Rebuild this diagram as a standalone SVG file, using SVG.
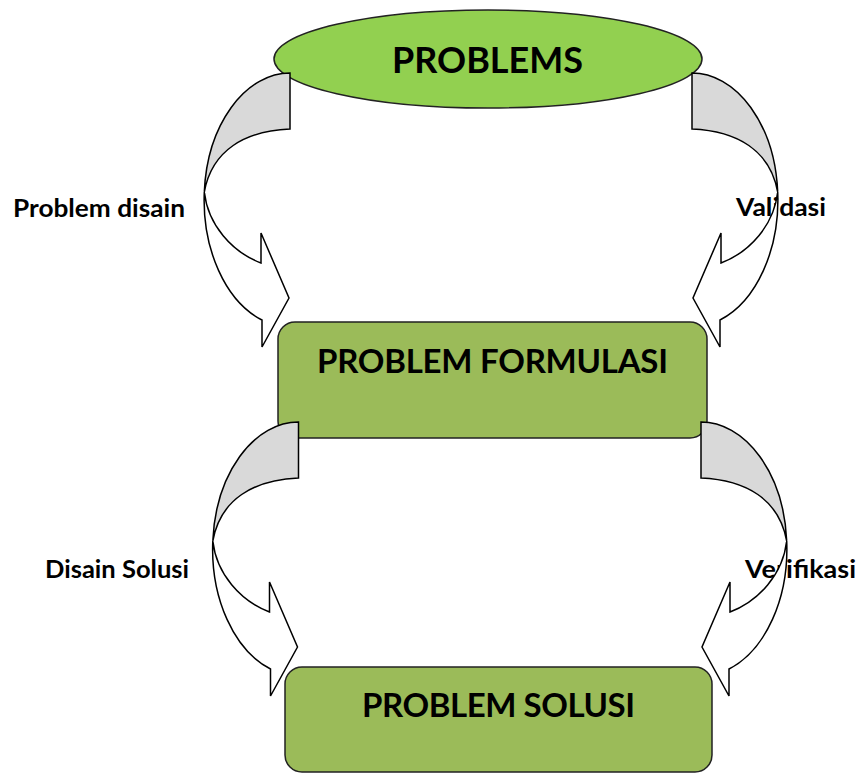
<svg xmlns="http://www.w3.org/2000/svg" width="857" height="773" viewBox="0 0 857 773">
  <style>
    .title { font-family: Lato, "Liberation Sans", sans-serif; font-weight: bold; fill: #000; }
    .label { font-family: Lato, "Liberation Sans", sans-serif; font-weight: bold; font-size: 25px; fill: #000; }
    .node-ellipse { fill: #92d050; stroke: #222; stroke-width: 1.5; }
    .node-box { fill: #9bbb59; stroke: #222; stroke-width: 1.5; }
    .arrow-back { fill: #d9d9d9; stroke: #000; stroke-width: 1.5; stroke-linejoin: miter; }
    .arrow-front { fill: #fff; stroke: #000; stroke-width: 1.5; stroke-linejoin: miter; }
  </style>
  <defs>
    <!-- curved arrow bending out to the left, then back right into its target -->
    <g id="curved-arrow">
      <path class="arrow-front" d="M204.3,192 A86,127 0 0 0 262,320 L262,347 L289,298 L261,233 L261,263 C232,252 208,225 204.3,192 Z"/>
      <path class="arrow-back" d="M290,73 A86,127 0 0 0 204.3,192 C212,150 245,131 290,129 Z"/>
    </g>
  </defs>

  <!-- side labels (partly covered by the arrows) -->
  <g id="labels">
    <text class="label" x="13" y="217" textLength="172" lengthAdjust="spacingAndGlyphs">Problem disain</text>
    <text class="label" x="736" y="216" textLength="90" lengthAdjust="spacingAndGlyphs">Validasi</text>
    <text class="label" x="45" y="578" textLength="144" lengthAdjust="spacingAndGlyphs">Disain Solusi</text>
    <text class="label" x="745" y="578" textLength="111" lengthAdjust="spacingAndGlyphs">Verifikasi</text>
  </g>

  <g id="problems">
    <ellipse class="node-ellipse" cx="488" cy="59" rx="214" ry="49"/>
    <text class="title" x="392" y="73" font-size="36" textLength="191">PROBLEMS</text>
  </g>

  <g id="problem-formulasi">
    <rect class="node-box" x="278" y="322" width="429" height="116" rx="17" ry="17"/>
    <text class="title" x="317" y="373" font-size="33" textLength="351">PROBLEM FORMULASI</text>
  </g>

  <g id="problem-solusi">
    <rect class="node-box" x="285" y="667" width="427" height="105" rx="17" ry="17"/>
    <text class="title" x="362" y="717" font-size="33" textLength="273">PROBLEM SOLUSI</text>
  </g>

  <g id="connectors">
    <use href="#curved-arrow"/>
    <use href="#curved-arrow" transform="translate(982,0) scale(-1,1)"/>
    <use href="#curved-arrow" transform="translate(8.5,349)"/>
    <use href="#curved-arrow" transform="translate(991,349) scale(-1,1)"/>
  </g>
</svg>
